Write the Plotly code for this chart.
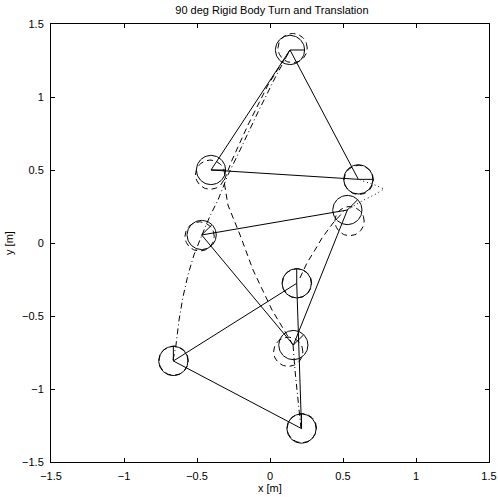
import numpy as np
import plotly.graph_objects as go

title_text = "90 deg Rigid Body Turn and Translation"
x_label = "x [m]"
y_label = "y [m]"
tick_vals = [-1.5, -1, -0.5, 0, 0.5, 1, 1.5]
tick_text = ["\u22121.5", "\u22121", "\u22120.5", "0", "0.5", "1", "1.5"]

robot_radius = 0.1

# desired formation (solid circles) at three instants, robots 1..3
des_t0_x = [-0.662, 0.216, 0.183]
des_t0_y = [-0.808, -1.271, -0.276]
des_t1_x = [-0.468, 0.160, 0.530]
des_t1_y = [0.055, -0.699, 0.226]
des_t2_x = [0.137, -0.404, 0.605]
des_t2_y = [1.322, 0.500, 0.436]

# actual robot positions (dashed circles)
act_t0_x = [-0.660, 0.218, 0.185]
act_t0_y = [-0.806, -1.268, -0.276]
act_t1_x = [-0.482, 0.125, 0.545]
act_t1_y = [0.045, -0.745, 0.150]
act_t2_x = [0.155, -0.410, 0.608]
act_t2_y = [1.335, 0.468, 0.432]

heading_deg = [90, 45, 0]

# trajectories
path1_x = [-0.664, -0.644, -0.623, -0.596, -0.562, -0.521, -0.466]
path1_y = [-0.801, -0.699, -0.527, -0.370, -0.219, -0.082, 0.055]
path2_x = [-0.466, -0.411, -0.356, -0.288, -0.205, -0.082, 0.034, 0.137]
path2_y = [0.055, 0.185, 0.295, 0.466, 0.637, 0.897, 1.130, 1.322]
path3_x = [0.137, -0.014, -0.151, -0.260, -0.315, -0.288, -0.205, -0.116, 0.014, 0.158]
path3_y = [1.322, 1.082, 0.808, 0.568, 0.425, 0.260, 0.055, -0.185, -0.459, -0.699]
path4_x = [0.158, 0.171, 0.192, 0.212]
path4_y = [-0.699, -0.870, -1.075, -1.267]
path5_x = [0.205, 0.253, 0.308, 0.356, 0.432, 0.514]
path5_y = [-0.240, -0.137, -0.048, 0.034, 0.137, 0.226]
path6_x = [0.527, 0.630, 0.726, 0.781, 0.719, 0.616]
path6_y = [0.226, 0.288, 0.336, 0.370, 0.397, 0.432]

DASH = "6px,4px"
DASHDOT = "6px,3px,1px,3px"
DOT = "1px,3px"
FONT = "Liberation Sans, Arial, sans-serif"

fig = go.Figure()


def add_line(x, y, dash="solid", width=1):
    fig.add_trace(go.Scatter(x=x, y=y, mode="lines",
                             line=dict(color="black", width=width, dash=dash),
                             hoverinfo="skip", showlegend=False))


theta = np.linspace(0, 2 * np.pi, 80)

# triangles
for xs, ys in [(des_t0_x, des_t0_y), (des_t1_x, des_t1_y), (des_t2_x, des_t2_y)]:
    add_line(xs + [xs[0]], ys + [ys[0]])

# circles and headings
for (xs, ys), (axs, ays), h in zip(
        [(des_t0_x, des_t0_y), (des_t1_x, des_t1_y), (des_t2_x, des_t2_y)],
        [(act_t0_x, act_t0_y), (act_t1_x, act_t1_y), (act_t2_x, act_t2_y)],
        heading_deg):
    hr = np.deg2rad(h)
    for cx, cy in zip(xs, ys):
        add_line(list(cx + robot_radius * np.cos(theta)), list(cy + robot_radius * np.sin(theta)))
        add_line([cx, cx + robot_radius * np.cos(hr)], [cy, cy + robot_radius * np.sin(hr)])
    for cx, cy in zip(axs, ays):
        add_line(list(cx + robot_radius * np.cos(theta)), list(cy + robot_radius * np.sin(theta)), dash=DASH)

# paths
add_line(path1_x, path1_y, DASHDOT)
add_line(path2_x, path2_y, DASHDOT)
add_line(path3_x, path3_y, DASH)
add_line(path4_x, path4_y, DASHDOT)
add_line(path5_x, path5_y, DASH)
add_line(path6_x, path6_y, DOT)

axis_common = dict(
    range=[-1.5, 1.5], tickvals=tick_vals, ticktext=tick_text,
    showgrid=False, zeroline=False, showline=True, linecolor="black", linewidth=1,
    mirror="ticks", ticks="inside", ticklen=4, tickcolor="black", tickwidth=1,
    tickfont=dict(family=FONT, size=11, color="black"), automargin=False,
)

fig.update_layout(
    width=498, height=497,
    margin=dict(l=51, r=9, t=24, b=35),
    paper_bgcolor="white", plot_bgcolor="white",
    title=dict(text=title_text, x=0.546, xanchor="center", y=1 - 10 / 497, yanchor="middle",
               yref="container", font=dict(family=FONT, size=11, color="black")),
    xaxis=dict(**axis_common, ticklabelstandoff=4),
    yaxis=dict(**axis_common, ticklabelstandoff=4,
               title=dict(text=y_label, standoff=6, font=dict(family=FONT, size=11, color="black"))),
    annotations=[dict(text=x_label, xref="paper", yref="paper", x=0.5, y=0, yshift=-26,
                      xanchor="center", yanchor="middle", showarrow=False,
                      font=dict(family=FONT, size=11, color="black"))],
)

fig.write_html("out.html")
